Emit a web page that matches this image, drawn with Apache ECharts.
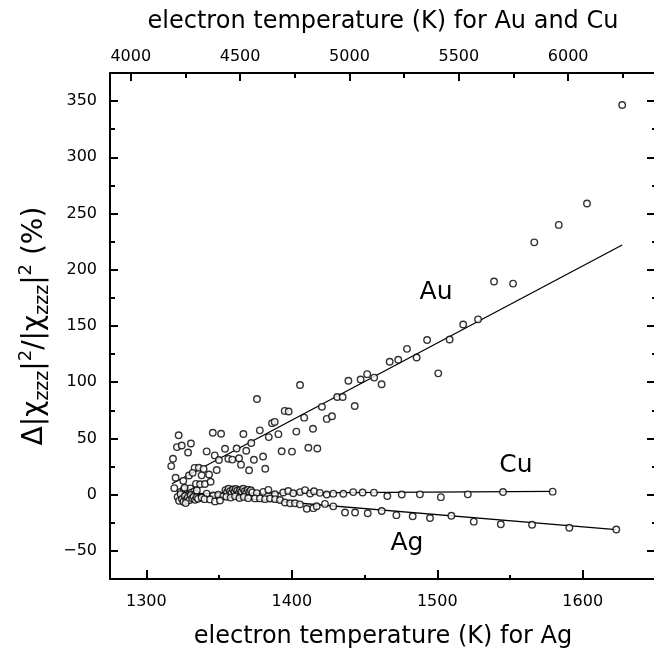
<!DOCTYPE html>
<html>
<head>
<meta charset="utf-8">
<script src="https://cdn.jsdelivr.net/npm/echarts@6/dist/echarts.min.js"></script>
<style>
html,body{margin:0;padding:0;background:#fff}
#chart{width:654px;height:648px}
</style>
</head>
<body>
<div id="chart"></div>
<script>
// axis ranges and ticks
var agRange = [1275, 1650.4];
var auRange = [3905, 6401.6];
var yRange = [-75, 375];
var agTicks = [1300, 1400, 1500, 1600];
var agMinorTicks = [1350, 1450, 1550];
var auTicks = [4000, 4500, 5000, 5500, 6000];
var auMinorTicks = [4250, 4750, 5250, 5750, 6250];
var yTicks = [-50, 0, 50, 100, 150, 200, 250, 300, 350];
var yMinorTicks = [-75, -25, 25, 75, 125, 175, 225, 275, 325, 375];

// Au: [electron temperature (K), change in %]
var auPoints = [
  [4185,25.4],[4193,32.0],[4219,52.9],[4211,42.3],[4233,43.7],[4262,37.5],[4275,45.5],
  [4205,15.0],[4199,5.8],[4240,12.3],[4266,17.0],[4292,23.8],[4311,24.0],[4333,22.9],
  [4283,19.4],[4324,17.2],[4358,18.0],[4298,9.6],[4317,9.2],[4339,9.5],[4365,11.5],
  [4393,21.9],[4347,38.5],[4375,55.1],[4413,54.2],[4384,34.9],[4403,30.8],[4431,40.8],
  [4446,31.9],[4464,31.2],[4484,41.0],[4504,26.7],[4495,32.4],[4515,54.0],[4528,39.1],
  [4541,21.7],[4551,45.9],[4563,31.1],[4577,85.1],[4590,57.2],[4605,34.0],[4615,23.0],
  [4631,51.2],[4646,63.6],[4658,64.7],[4675,53.8],[4690,38.6],[4704,74.5],[4722,73.9],
  [4737,38.3],[4757,56.1],[4774,97.5],[4793,68.5],[4812,41.7],[4833,58.6],[4853,41.1],
  [4874,78.1],[4896,67.4],[4920,69.7],[4944,86.9],[4969,86.9],[5024,78.8],[4995,101.3],
  [5051,102.4],[5081,107.2],[5113,104.1],[5147,98.2],[5184,118.2],[5223,120.0],[5263,129.7],
  [5307,122.0],[5355,137.6],[5406,107.9],[5458,138.0],[5520,151.3],[5588,155.9],[5661,189.6],
  [5748,187.7],[5845,224.4],[5957,239.9],[6086,259.0],[6247,346.6]
];
var auFit = [[4188, 9.7], [6247, 222]];

// Cu: same temperature scale as Au
var cuPoints = [
  [4228,2.5],[4236,-1.0],[4242,4.5],[4249,1.2],[4255,-2.0],[4261,3.3],[4266,0.4],[4272,5.6],
  [4278,1.8],[4284,-0.8],[4290,2.9],[4296,0.9],[4302,3.8],[4246,6.2],[4270,-1.6],
  [4347,0.9],[4377,-0.7],[4400,-0.1],[4423,-1.3],
  [4433,4.0],[4440,2.1],[4447,5.2],[4454,3.0],[4460,1.2],[4467,4.6],[4474,2.6],[4480,5.0],
  [4487,3.5],[4494,1.5],[4500,4.2],[4507,2.8],[4514,5.3],[4521,3.1],[4528,1.8],[4535,4.4],
  [4542,2.5],[4549,3.9],[4556,2.0],
  [4576,1.4],[4606,2.5],[4629,4.3],[4659,0.4],[4697,1.9],[4720,3.3],[4743,1.2],[4774,2.3],
  [4797,4.0],[4820,1.1],[4838,3.1],[4865,1.6],[4896,0.1],[4926,0.9],[4972,0.8],[5017,2.3],
  [5060,1.9],[5112,1.8],[5173,-1.2],[5239,0.2],[5322,0.3],[5418,-2.2],[5541,0.3],[5702,2.4],
  [5929,2.7]
];
var cuFit = [[4225, 1.0], [5929, 3.0]];

// Ag: its own temperature scale
var agPoints = [
  [1321.5,-2.0],[1322.5,-5.5],[1323.5,0.5],[1324.5,-3.8],[1325.5,-6.2],[1326.5,-1.2],
  [1327.5,-4.4],[1328.5,-2.6],[1329.5,-5.0],[1330.5,-0.4],[1331.5,-3.2],[1332.5,-1.8],
  [1333.5,-4.6],[1334.5,-2.4],[1335.5,-3.6],[1327,-7.5],[1338,-2.5],[1340,-4.0],
  [1343.8,-4.2],[1347.2,-6.0],[1350.6,-5.2],
  [1355,-1.8],[1358,-2.6],[1361,-1.5],[1364,-2.9],[1367,-2.0],[1370,-3.1],
  [1374.7,-3.3],[1378.1,-3.3],[1381.6,-4.0],[1385,-3.4],[1388.5,-4.0],[1391.9,-4.7],
  [1395.3,-7.0],[1398.8,-7.7],[1402.2,-7.7],[1405.6,-8.6],[1410.3,-12.5],[1414.8,-12.0],
  [1417.1,-10.3],[1422.8,-8.2],[1428.5,-10.4],[1436.6,-15.8],[1443.5,-15.9],[1452.2,-16.5],
  [1461.8,-14.5],[1471.9,-18.2],[1483.1,-19.2],[1495,-20.8],[1509.7,-18.8],[1525.1,-24.0],
  [1543.7,-26.3],[1565.2,-26.8],[1590.8,-29.4],[1623.1,-31.0]
];
var agFit = [[1322, 1.5], [1623, -31]];

var FONT = 'DejaVu Sans';
var BLACK = '#000';

// plain numbers, typographic minus
function plain(v) {
  return String(v).replace('-', '\u2212');
}

function majorAxis(extra) {
  var a = {
    type: 'value',
    axisLine: {show: true, onZero: false, lineStyle: {color: BLACK, width: 2}},
    axisTick: {inside: true, length: 9, lineStyle: {color: BLACK, width: 2}},
    axisLabel: {color: BLACK, fontSize: 16, fontFamily: FONT, formatter: plain},
    splitLine: {show: false}
  };
  return Object.assign(a, extra);
}
function minorAxis(extra) {
  var a = {
    type: 'value',
    axisLine: {show: false, onZero: false},
    axisTick: {inside: true, length: 5, lineStyle: {color: BLACK, width: 2}},
    axisLabel: {show: false},
    splitLine: {show: false}
  };
  return Object.assign(a, extra);
}
function setTicks(axis, values, showLabels) {
  axis.axisTick.customValues = values;
  if (showLabels) axis.axisLabel.customValues = values;
  return axis;
}

var titleStyle = {color: BLACK, fontSize: 24, fontFamily: FONT};

var xBottom = setTicks(majorAxis({position: 'bottom', min: agRange[0], max: agRange[1],
  name: 'electron temperature (K) for Ag', nameLocation: 'middle', nameGap: 46,
  nameTextStyle: titleStyle}), agTicks, true);
xBottom.axisLabel.margin = 15;
var xBottomMinor = setTicks(minorAxis({position: 'bottom', min: agRange[0], max: agRange[1]}), agMinorTicks);
xBottomMinor.axisTick.length = 4;

var xTop = setTicks(majorAxis({position: 'top', min: auRange[0], max: auRange[1],
  name: 'electron temperature (K) for Au and Cu', nameLocation: 'middle', nameGap: 39,
  nameTextStyle: titleStyle}), auTicks, true);
xTop.axisTick.length = 8;
xTop.axisLabel.margin = 8;
var xTopMinor = setTicks(minorAxis({position: 'top', min: auRange[0], max: auRange[1]}), auMinorTicks);

var yLeft = setTicks(majorAxis({position: 'left', min: yRange[0], max: yRange[1],
  name: '{m|Δ|χ}{s|zzz}{m||}{p|2}{m|/|χ}{s|zzz}{m||}{p|2}{m| (%)}',
  nameLocation: 'middle', nameGap: 56,
  nameTextStyle: {color: BLACK, fontFamily: FONT, rich: {
    m: {fontSize: 28, fontFamily: FONT, color: BLACK, lineHeight: 35},
    s: {fontSize: 19, fontFamily: FONT, color: BLACK, verticalAlign: 'bottom'},
    p: {fontSize: 18, fontFamily: FONT, color: BLACK, verticalAlign: 'top'}
  }}}), yTicks, true);
yLeft.axisTick.length = 8;
yLeft.axisLabel.margin = 13;
var yLeftMinor = setTicks(minorAxis({position: 'left', min: yRange[0], max: yRange[1]}), yMinorTicks);

var yRight = setTicks(majorAxis({position: 'right', min: yRange[0], max: yRange[1]}), yTicks, false);
yRight.axisLabel.show = false;
var yRightMinor = setTicks(minorAxis({position: 'right', min: yRange[0], max: yRange[1]}), yMinorTicks);
yRightMinor.axisTick.length = 4;

function fitLine(data, xi) {
  return {type: 'line', xAxisIndex: xi, yAxisIndex: 0, data: data, symbol: 'none',
    lineStyle: {color: BLACK, width: 1.3}, silent: true, z: 1};
}
function dots(data, xi) {
  return {type: 'scatter', xAxisIndex: xi, yAxisIndex: 0, data: data, symbol: 'circle',
    symbolSize: 6.5, itemStyle: {color: '#fff', borderColor: BLACK, borderWidth: 1.4}, z: 2};
}

var chart = echarts.init(document.getElementById('chart'));
chart.setOption({
  animation: false,
  backgroundColor: '#fff',
  grid: {left: 110, top: 73, width: 546, height: 506, containLabel: false, outerBoundsMode: 'none'},
  xAxis: [xBottom, xBottomMinor, xTop, xTopMinor],
  yAxis: [yLeft, yLeftMinor, yRight, yRightMinor],
  series: [
    fitLine(auFit, 2), fitLine(cuFit, 2), fitLine(agFit, 0),
    dots(auPoints, 2), dots(cuPoints, 2), dots(agPoints, 0)
  ],
  graphic: [
    {type: 'text', x: 436, y: 292, style: {text: 'Au', fill: BLACK, font: '25px "DejaVu Sans"', textAlign: 'center', textVerticalAlign: 'middle'}},
    {type: 'text', x: 516, y: 465, style: {text: 'Cu', fill: BLACK, font: '25px "DejaVu Sans"', textAlign: 'center', textVerticalAlign: 'middle'}},
    {type: 'text', x: 407, y: 543, style: {text: 'Ag', fill: BLACK, font: '25px "DejaVu Sans"', textAlign: 'center', textVerticalAlign: 'middle'}}
  ]
});
</script>
</body>
</html>
